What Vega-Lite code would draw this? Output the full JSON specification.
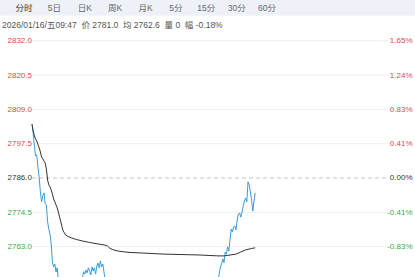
{
  "$schema": "https://vega.github.io/schema/vega-lite/v6.json",
  "width": 415,
  "height": 236.3,
  "autosize": {"type": "none"},
  "padding": {"left": 0, "top": 40.7, "right": 0, "bottom": 0},
  "background": "white",
  "config": {"view": {"stroke": null}},
  "datasets": {
    "levels": [{"p": 2832}, {"p": 2820.5}, {"p": 2809}, {"p": 2797.5}, {"p": 2786}, {"p": 2774.5}, {"p": 2763}],
    "tabs": [
      {"tab": "分时", "i": 0}, {"tab": "5日", "i": 1}, {"tab": "日K", "i": 2}, {"tab": "周K", "i": 3},
      {"tab": "月K", "i": 4}, {"tab": "5分", "i": 5}, {"tab": "15分", "i": 6}, {"tab": "30分", "i": 7}, {"tab": "60分", "i": 8}
    ],
    "series": [
      {"t":0,"v":2804.1,"s":"p"},{"t":1,"v":2801.1,"s":"p"},{"t":2,"v":2796.7,"s":"p"},{"t":3,"v":2793.4,"s":"p"},
      {"t":4,"v":2793.7,"s":"p"},{"t":5,"v":2789.4,"s":"p"},{"t":6,"v":2786.0,"s":"p"},{"t":7,"v":2781.3,"s":"p"},
      {"t":8,"v":2778.0,"s":"p"},{"t":9,"v":2780.0,"s":"p"},{"t":10,"v":2781.0,"s":"p"},{"t":11,"v":2777.3,"s":"p"},
      {"t":12,"v":2777.0,"s":"p"},{"t":13,"v":2771.3,"s":"p"},{"t":14,"v":2768.9,"s":"p"},{"t":15,"v":2767.2,"s":"p"},
      {"t":16,"v":2763.9,"s":"p"},{"t":17,"v":2757.9,"s":"p"},{"t":18,"v":2756.2,"s":"p"},{"t":19,"v":2757.2,"s":"p"},
      {"t":20,"v":2754.5,"s":"p"},{"t":21,"v":2755.9,"s":"p"},{"t":22,"v":2751.8,"s":"p"},{"t":23,"v":2749,"s":"p"},
      {"t":24,"v":2746,"s":"p"},{"t":25,"v":2748,"s":"p"},{"t":26,"v":2744,"s":"p"},{"t":27,"v":2742,"s":"p"},
      {"t":28,"v":2745,"s":"p"},{"t":29,"v":2743,"s":"p"},{"t":30,"v":2740,"s":"p"},{"t":31,"v":2743,"s":"p"},
      {"t":32,"v":2746,"s":"p"},{"t":33,"v":2744,"s":"p"},{"t":34,"v":2747,"s":"p"},{"t":35,"v":2749,"s":"p"},
      {"t":36,"v":2746,"s":"p"},{"t":37,"v":2748,"s":"p"},{"t":38,"v":2750,"s":"p"},{"t":39,"v":2748,"s":"p"},
      {"t":40,"v":2751,"s":"p"},{"t":41,"v":2750,"s":"p"},{"t":42,"v":2752.5,"s":"p"},{"t":43,"v":2754.6,"s":"p"},
      {"t":44,"v":2753.8,"s":"p"},{"t":45,"v":2755.2,"s":"p"},{"t":46,"v":2754.2,"s":"p"},{"t":47,"v":2755.9,"s":"p"},
      {"t":48,"v":2754.8,"s":"p"},{"t":49,"v":2753.5,"s":"p"},{"t":50,"v":2756.2,"s":"p"},{"t":51,"v":2754.8,"s":"p"},
      {"t":52,"v":2755.9,"s":"p"},{"t":53,"v":2753.8,"s":"p"},{"t":54,"v":2756.5,"s":"p"},{"t":55,"v":2757.5,"s":"p"},
      {"t":56,"v":2755.9,"s":"p"},{"t":57,"v":2758.2,"s":"p"},{"t":58,"v":2756.2,"s":"p"},{"t":59,"v":2757.2,"s":"p"},
      {"t":60,"v":2754.5,"s":"p"},{"t":61,"v":2751.8,"s":"p"},{"t":62,"v":2749.5,"s":"p"},{"t":63,"v":2751,"s":"p"},
      {"t":64,"v":2752,"s":"p"},{"t":65,"v":2749,"s":"p"},{"t":66,"v":2750.5,"s":"p"},{"t":67,"v":2747,"s":"p"},
      {"t":68,"v":2748.5,"s":"p"},{"t":69,"v":2746,"s":"p"},{"t":70,"v":2747.5,"s":"p"},{"t":71,"v":2745,"s":"p"},
      {"t":72,"v":2746.5,"s":"p"},{"t":73,"v":2744,"s":"p"},{"t":74,"v":2745.5,"s":"p"},{"t":75,"v":2743,"s":"p"},
      {"t":76,"v":2745,"s":"p"},{"t":77,"v":2742.5,"s":"p"},{"t":78,"v":2744,"s":"p"},{"t":79,"v":2746,"s":"p"},
      {"t":80,"v":2744.5,"s":"p"},{"t":81,"v":2747,"s":"p"},{"t":82,"v":2745.5,"s":"p"},{"t":83,"v":2748,"s":"p"},
      {"t":84,"v":2746,"s":"p"},{"t":85,"v":2748.5,"s":"p"},{"t":86,"v":2747,"s":"p"},{"t":87,"v":2749.5,"s":"p"},
      {"t":88,"v":2748,"s":"p"},{"t":89,"v":2746.5,"s":"p"},{"t":90,"v":2748,"s":"p"},{"t":91,"v":2745.5,"s":"p"},
      {"t":92,"v":2747,"s":"p"},{"t":93,"v":2744.5,"s":"p"},{"t":94,"v":2746,"s":"p"},{"t":95,"v":2743.5,"s":"p"},
      {"t":96,"v":2745,"s":"p"},{"t":97,"v":2742.5,"s":"p"},{"t":98,"v":2744,"s":"p"},{"t":99,"v":2741.5,"s":"p"},
      {"t":100,"v":2743,"s":"p"},{"t":101,"v":2741,"s":"p"},{"t":102,"v":2742.5,"s":"p"},{"t":103,"v":2740.5,"s":"p"},
      {"t":104,"v":2742,"s":"p"},{"t":105,"v":2741,"s":"p"},{"t":106,"v":2743.5,"s":"p"},{"t":107,"v":2742,"s":"p"},
      {"t":108,"v":2744.5,"s":"p"},{"t":109,"v":2743,"s":"p"},{"t":110,"v":2745.5,"s":"p"},{"t":111,"v":2744,"s":"p"},
      {"t":112,"v":2746,"s":"p"},{"t":113,"v":2744.5,"s":"p"},{"t":114,"v":2747,"s":"p"},{"t":115,"v":2745.5,"s":"p"},
      {"t":116,"v":2748,"s":"p"},{"t":117,"v":2746.5,"s":"p"},{"t":118,"v":2749,"s":"p"},{"t":119,"v":2747.5,"s":"p"},
      {"t":120,"v":2746,"s":"p"},{"t":121,"v":2748.5,"s":"p"},{"t":122,"v":2747,"s":"p"},{"t":123,"v":2749.5,"s":"p"},
      {"t":124,"v":2748,"s":"p"},{"t":125,"v":2746.5,"s":"p"},{"t":126,"v":2748,"s":"p"},{"t":127,"v":2746,"s":"p"},
      {"t":128,"v":2747.5,"s":"p"},{"t":129,"v":2745.5,"s":"p"},{"t":130,"v":2747,"s":"p"},{"t":131,"v":2745,"s":"p"},
      {"t":132,"v":2746.5,"s":"p"},{"t":133,"v":2744.5,"s":"p"},{"t":134,"v":2746,"s":"p"},{"t":135,"v":2744,"s":"p"},
      {"t":136,"v":2745.5,"s":"p"},{"t":137,"v":2743.5,"s":"p"},{"t":138,"v":2745,"s":"p"},{"t":139,"v":2743,"s":"p"},
      {"t":140,"v":2744.5,"s":"p"},{"t":141,"v":2746.5,"s":"p"},{"t":142,"v":2745,"s":"p"},{"t":143,"v":2747.5,"s":"p"},
      {"t":144,"v":2746,"s":"p"},{"t":145,"v":2748.5,"s":"p"},{"t":146,"v":2747,"s":"p"},{"t":147,"v":2749.5,"s":"p"},
      {"t":148,"v":2748.5,"s":"p"},{"t":149,"v":2750.5,"s":"p"},{"t":150,"v":2749.5,"s":"p"},{"t":151,"v":2751.5,"s":"p"},
      {"t":152,"v":2750.5,"s":"p"},{"t":153,"v":2752,"s":"p"},{"t":154,"v":2750,"s":"p"},{"t":155,"v":2751.5,"s":"p"},
      {"t":156,"v":2753.8,"s":"p"},{"t":157,"v":2756.2,"s":"p"},{"t":158,"v":2757.2,"s":"p"},{"t":159,"v":2758.9,"s":"p"},
      {"t":160,"v":2757.6,"s":"p"},{"t":161,"v":2761.2,"s":"p"},{"t":162,"v":2760.5,"s":"p"},{"t":163,"v":2762.9,"s":"p"},
      {"t":164,"v":2761.5,"s":"p"},{"t":165,"v":2765.2,"s":"p"},{"t":166,"v":2768.9,"s":"p"},{"t":167,"v":2767.9,"s":"p"},
      {"t":168,"v":2769.6,"s":"p"},{"t":169,"v":2769.9,"s":"p"},{"t":170,"v":2768.6,"s":"p"},{"t":171,"v":2771.9,"s":"p"},
      {"t":172,"v":2773.9,"s":"p"},{"t":173,"v":2774.3,"s":"p"},{"t":174,"v":2772.9,"s":"p"},{"t":175,"v":2774.6,"s":"p"},
      {"t":176,"v":2776.6,"s":"p"},{"t":177,"v":2778.3,"s":"p"},{"t":178,"v":2779.3,"s":"p"},{"t":179,"v":2778.0,"s":"p"},
      {"t":180,"v":2784.7,"s":"p"},{"t":181,"v":2783.7,"s":"p"},{"t":182,"v":2781.3,"s":"p"},{"t":183,"v":2778.6,"s":"p"},
      {"t":184,"v":2774.9,"s":"p"},{"t":185,"v":2778.3,"s":"p"},{"t":186,"v":2781.0,"s":"p"},
      {"t":0,"v":2804.0,"s":"a"},{"t":1,"v":2801.7,"s":"a"},{"t":2,"v":2800.1,"s":"a"},{"t":3,"v":2799.1,"s":"a"},
      {"t":4,"v":2798.4,"s":"a"},{"t":5,"v":2797.1,"s":"a"},{"t":6,"v":2796.1,"s":"a"},{"t":7,"v":2794.7,"s":"a"},
      {"t":8,"v":2793.0,"s":"a"},{"t":9,"v":2792.4,"s":"a"},{"t":10,"v":2791.7,"s":"a"},{"t":11,"v":2791.0,"s":"a"},
      {"t":12,"v":2789.0,"s":"a"},{"t":13,"v":2785.3,"s":"a"},{"t":14,"v":2783.7,"s":"a"},{"t":15,"v":2783.0,"s":"a"},
      {"t":16,"v":2782.0,"s":"a"},{"t":17,"v":2780.6,"s":"a"},{"t":18,"v":2779.0,"s":"a"},{"t":19,"v":2778.0,"s":"a"},
      {"t":20,"v":2777.0,"s":"a"},{"t":21,"v":2776.0,"s":"a"},{"t":22,"v":2774.6,"s":"a"},{"t":23,"v":2772.9,"s":"a"},
      {"t":24,"v":2771.3,"s":"a"},{"t":25,"v":2769.6,"s":"a"},{"t":26,"v":2768.2,"s":"a"},{"t":27,"v":2767.6,"s":"a"},
      {"t":28,"v":2766.9,"s":"a"},{"t":30,"v":2766.4,"s":"a"},{"t":33,"v":2765.9,"s":"a"},{"t":37,"v":2765.4,"s":"a"},
      {"t":42,"v":2764.9,"s":"a"},{"t":48,"v":2764.4,"s":"a"},{"t":55,"v":2763.9,"s":"a"},{"t":60,"v":2763.6,"s":"a"},
      {"t":63,"v":2763.2,"s":"a"},{"t":65,"v":2762.4,"s":"a"},{"t":68,"v":2761.9,"s":"a"},{"t":72,"v":2761.5,"s":"a"},
      {"t":80,"v":2761.1,"s":"a"},{"t":90,"v":2760.9,"s":"a"},{"t":100,"v":2760.7,"s":"a"},{"t":110,"v":2760.5,"s":"a"},
      {"t":120,"v":2760.4,"s":"a"},{"t":130,"v":2760.3,"s":"a"},{"t":140,"v":2760.2,"s":"a"},{"t":150,"v":2760.0,"s":"a"},
      {"t":155,"v":2759.9,"s":"a"},{"t":160,"v":2759.9,"s":"a"},{"t":165,"v":2760.2,"s":"a"},{"t":170,"v":2760.5,"s":"a"},
      {"t":174,"v":2761.2,"s":"a"},{"t":178,"v":2761.9,"s":"a"},{"t":181,"v":2762.2,"s":"a"},{"t":183,"v":2762.4,"s":"a"},
      {"t":186,"v":2762.6,"s":"a"}
    ]
  },
  "layer": [
    {
      "data": {"values": [{}]},
      "mark": {"type": "rect", "color": "#eef2f8"},
      "encoding": {"x": {"value": 0}, "x2": {"value": 415}, "y": {"value": -40.7}, "y2": {"value": -25}}
    },
    {
      "data": {"name": "tabs"},
      "mark": {"type": "text", "font": "Liberation Sans, Noto Sans CJK SC", "fontSize": 8.5, "baseline": "middle", "align": "center"},
      "encoding": {
        "x": {"field": "i", "type": "quantitative", "scale": {"domain": [-0.79, 12.87], "nice": false, "zero": false}, "axis": null},
        "y": {"value": -33},
        "text": {"field": "tab"},
        "color": {"condition": {"test": "datum.i == 0", "value": "#333333"}, "value": "#666666"}
      }
    },
    {
      "data": {"values": [{"info": "2026/01/16/五09:47\u00a0\u00a0价\u00a02781.0\u00a0\u00a0均\u00a02762.6\u00a0\u00a0量\u00a00\u00a0\u00a0幅\u00a0-0.18%"}]},
      "mark": {"type": "text", "font": "Liberation Sans, Noto Sans CJK SC", "fontSize": 8.5, "baseline": "middle", "align": "left", "color": "#555555"},
      "encoding": {"x": {"value": 2}, "y": {"value": -16}, "text": {"field": "info"}}
    },
    {
      "layer": [
        {
          "data": {"name": "levels"},
          "mark": {"type": "rule", "strokeWidth": 1},
          "encoding": {
            "y": {
              "field": "p", "type": "quantitative",
              "scale": {"domain": [2752.83, 2832], "nice": false, "zero": false},
              "axis": {
                "orient": "left", "values": [2763, 2774.5, 2786, 2797.5, 2809, 2820.5, 2832], "format": ".1f",
                "labelAlign": "left", "labelPadding": -7, "ticks": false, "tickSize": 0, "domain": false, "grid": false, "title": null,
                "labelFont": "Liberation Sans", "labelFontSize": 8, "labelBaseline": "middle",
                "labelFlush": false, "labelOverlap": false, "labelBound": false,
                "labelColor": {"expr": "datum.value > 2786.01 ? '#e0474c' : (datum.value < 2785.99 ? '#3aab47' : '#333333')"}
              }
            },
            "x": {"datum": 0, "type": "quantitative", "scale": {"domain": [-26.667, 319.167], "nice": false, "zero": false}, "axis": null},
            "x2": {"datum": 296.7},
            "color": {"condition": {"test": "datum.p == 2786", "value": "#c4c4c4"}, "value": "#eeeeee"},
            "strokeDash": {"condition": {"test": "datum.p == 2786", "value": [4, 3]}, "value": [1, 0]}
          }
        },
        {
          "data": {"name": "series"},
          "mark": {"type": "line", "clip": true, "strokeWidth": 1},
          "encoding": {
            "x": {
              "field": "t", "type": "quantitative",
              "scale": {"domain": [-26.667, 319.167], "nice": false, "zero": false},
              "axis": {"values": [30, 60, 90, 120, 150, 180, 210, 240, 270, 300], "grid": true, "gridColor": "#eeeeee", "labels": false, "ticks": false, "domain": false, "title": null}
            },
            "y": {
              "field": "v", "type": "quantitative",
              "scale": {"domain": [2752.83, 2832], "nice": false, "zero": false},
              "axis": {
                "orient": "right", "values": [2763, 2774.5, 2786, 2797.5, 2809, 2820.5, 2832],
                "labelExpr": "replace(format((datum.value / 2786 - 1) * 100, '.2f'), '\u2212', '-') + '%'",
                "labelAlign": "right", "labelPadding": -3, "ticks": false, "tickSize": 0, "domain": false, "grid": false, "title": null,
                "labelFont": "Liberation Sans", "labelFontSize": 8, "labelBaseline": "middle",
                "labelFlush": false, "labelOverlap": false, "labelBound": false,
                "labelColor": {"expr": "datum.value > 2786.01 ? '#e0474c' : (datum.value < 2785.99 ? '#3aab47' : '#333333')"}
              }
            },
            "color": {"field": "s", "type": "nominal", "scale": {"domain": ["p", "a"], "range": ["#3b9bd8", "#333333"]}, "legend": null}
          }
        }
      ],
      "resolve": {"axis": {"y": "independent"}}
    }
  ],
  "resolve": {"scale": {"x": "independent"}}
}
